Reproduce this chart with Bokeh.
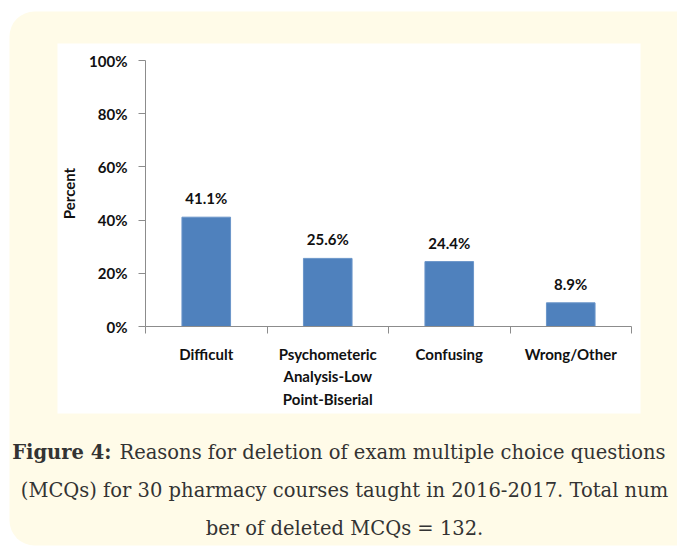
from bokeh.plotting import figure
from bokeh.models import (ColumnDataSource, FixedTicker, PrintfTickFormatter, LabelSet,
                          Label, BoxAnnotation, Range1d, LinearAxis)
from bokeh.core.properties import value
from bokeh.embed import file_html
from bokeh.resources import INLINE

# ---- data ----
categories = ["Difficult", "Psychometeric\nAnalysis-Low\nPoint-Biserial", "Confusing", "Wrong/Other"]
percents = [41.1, 25.6, 24.4, 8.9]
y_ticks = [0, 20, 40, 60, 80, 100]
y_label = "Percent"
caption_bold = "Figure 4:"
caption_line1 = "Reasons for deletion of exam multiple choice questions"
caption_line2 = "(MCQs) for 30 pharmacy courses taught in 2016-2017. Total num"
caption_line3 = "ber of deleted MCQs = 132."

n = len(categories)
positions = [i + 0.5 for i in range(n)]
boundaries = list(range(n + 1))
src = ColumnDataSource(dict(x=positions, y=percents, label=[f"{v}%" for v in percents]))

# ---- layout (pixels) ----
W, H = 677, 554
PL, PR, PT, PB = 145, 631, 60, 326      # plotting area of the chart
YMAX = y_ticks[-1]
px_x = (PR - PL) / n
px_y = (PB - PT) / YMAX
x_range = Range1d(-PL / px_x, n + (W - PR) / px_x)
y_range = Range1d(-(H - PB) / px_y, YMAX + PT / px_y)

CHART_FONT = "Lato"
SERIF = "DejaVu Serif"
AXIS_GREY = "#8c8c8c"

p = figure(width=W, height=H, output_backend="svg", toolbar_location=None,
           x_range=x_range, y_range=y_range, x_axis_location=None, y_axis_location=None,
           min_border=0)
p.outline_line_color = None
p.grid.visible = False
p.background_fill_color = "white"
p.border_fill_color = "white"

# background panels (canvas units)
box_units = dict(left_units="canvas", right_units="canvas", top_units="canvas", bottom_units="canvas")
p.add_layout(BoxAnnotation(left=9, right=720, top=11, bottom=545, **box_units,
                           fill_color="#fffbe8", fill_alpha=1, line_color=None,
                           border_radius=25, level="image"))
p.add_layout(BoxAnnotation(left=57, right=640, top=43, bottom=413, **box_units,
                           fill_color="white", fill_alpha=1, line_color=None,
                           level="image"))

p.vbar(x="x", top="y", bottom=0, width=0.4, source=src,
       fill_color="#4F81BD", line_color="#6a95c9", line_width=1)

p.add_layout(LabelSet(x="x", y="y", text="label", source=src, y_offset=13,
                      text_align="center", text_baseline="alphabetic",
                      text_font=value(CHART_FONT), text_font_style="bold",
                      text_font_size="15px", text_color="#111111"))

# y axis
ya = LinearAxis(fixed_location=0, bounds=(0, YMAX))
ya.ticker = FixedTicker(ticks=y_ticks)
ya.formatter = PrintfTickFormatter(format="%d%%")
ya.axis_line_color = AXIS_GREY
ya.major_tick_line_color = AXIS_GREY
ya.major_tick_out = 7
ya.major_tick_in = 0
ya.minor_tick_line_color = None
ya.major_label_standoff = 11
ya.major_label_text_font = CHART_FONT
ya.major_label_text_font_style = "bold"
ya.major_label_text_font_size = "15px"
ya.major_label_text_color = "#111111"
ya.axis_label = y_label
ya.axis_label_text_font = CHART_FONT
ya.axis_label_text_font_style = "bold"
ya.axis_label_text_font_size = "15px"
ya.axis_label_text_color = "#111111"
ya.axis_label_standoff = 8
p.add_layout(ya, "left")

# x axis
xa = LinearAxis(fixed_location=0, bounds=(0, n))
xa.ticker = FixedTicker(ticks=positions, minor_ticks=boundaries)
xa.major_label_overrides = {pos: c for pos, c in zip(positions, categories)}
xa.axis_line_color = AXIS_GREY
xa.major_tick_line_color = None
xa.major_tick_out = 0
xa.major_tick_in = 0
xa.minor_tick_line_color = AXIS_GREY
xa.minor_tick_out = 7
xa.minor_tick_in = 0
xa.major_label_standoff = 11
xa.major_label_text_font = CHART_FONT
xa.major_label_text_font_style = "bold"
xa.major_label_text_font_size = "15px"
xa.major_label_text_color = "#111111"
xa.major_label_text_line_height = 1.25
p.add_layout(xa, "below")

# caption (canvas units)
cap = dict(x_units="canvas", y_units="canvas", text_font=SERIF, text_font_size="19.5px",
           text_baseline="alphabetic", text_color="#333333")
p.add_layout(Label(x=111, y=452, text=caption_bold, text_font_style="bold", text_align="right", **cap))
p.add_layout(Label(x=119, y=452, text=caption_line1, text_align="left", **cap))
p.add_layout(Label(x=344, y=490, text=caption_line2, text_align="center", **cap))
p.add_layout(Label(x=344, y=528, text=caption_line3, text_align="center", **cap))

open("out.html", "w").write(file_html(p, INLINE))
